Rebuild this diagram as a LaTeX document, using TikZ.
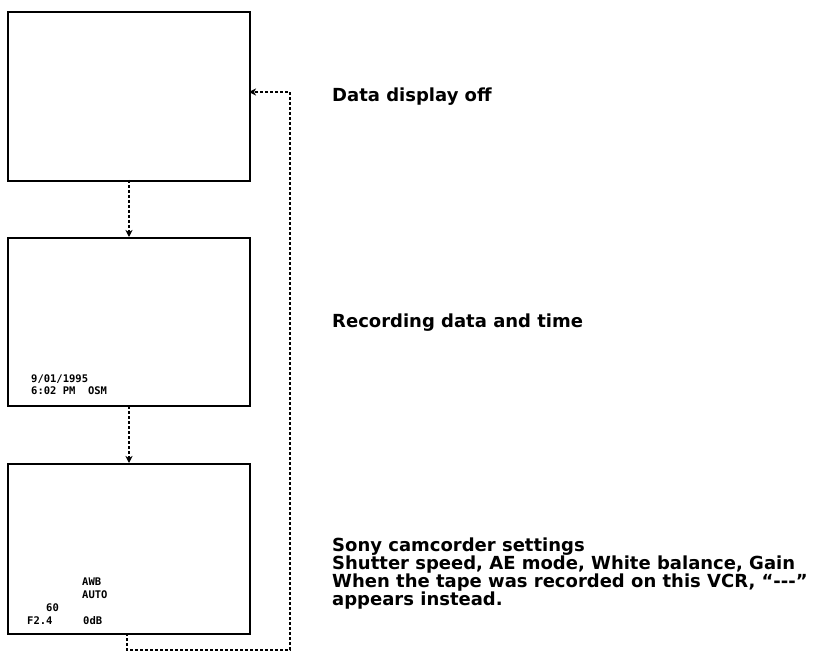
\documentclass[tikz,border=0pt]{standalone}
\usepackage{fontspec}
\setmainfont{Liberation Sans}
\newfontfamily\lblfont{DejaVu Sans}
\newfontfamily\pixfont{DejaVu Sans Mono}
\usetikzlibrary{arrows.meta}
\begin{document}
\begin{tikzpicture}[x=1pt,y=-1pt,
  screen/.style={draw=black,line width=1.8pt,fill=white},
  link/.style={draw=black,line width=1.4pt,dash pattern=on 3pt off 2pt,-{Stealth[length=7pt,width=7pt,inset=2pt]}},
  lbl/.style={anchor=west,font=\lblfont\bfseries\fontsize{18}{18}\selectfont,inner sep=0pt},
  pix/.style={anchor=west,font=\pixfont\bfseries\fontsize{10.5}{12}\selectfont,inner sep=0pt}]
\useasboundingbox (0,0) rectangle (814,660);
% screens
\node[screen,minimum width=242pt,minimum height=169pt,inner sep=0pt,anchor=north west] (s1) at (7,11) {};
\node[screen,minimum width=242pt,minimum height=168pt,inner sep=0pt,anchor=north west] (s2) at (7,237) {};
\node[screen,minimum width=242pt,minimum height=170pt,inner sep=0pt,anchor=north west] (s3) at (7,463) {};
% screen texts
\node[pix] (t1) at (31,379) {9/01/1995};
\node[pix] (t2) at (31,391) {6:02 PM\ \ OSM};
\node[pix] (t3) at (82,582) {AWB};
\node[pix] (t4) at (82,595) {AUTO};
\node[pix] (t5) at (46,608) {60};
\node[pix] (t6) at (27,621) {F2.4};
\node[pix] (t7) at (83,621) {0dB};
% connectors
\coordinate (c1a) at (129,180);
\coordinate (c1b) at (129,237);
\coordinate (c2a) at (129,406);
\coordinate (c2b) at (129,463);
\draw[link] (c1a) -- (c1b);
\draw[link] (c2a) -- (c2b);
\coordinate (l0) at (127,633);
\coordinate (l1) at (127,650);
\coordinate (l2) at (290,650);
\coordinate (l3) at (290,92);
\coordinate (l4) at (249,92);
\draw[link] (l0) -- (l1) -- (l2) -- (l3) -- (l4);
% labels
\node[lbl] (a) at (332,97) {Data display off};
\node[lbl] (b) at (332,323) {Recording data and time};
\node[lbl,anchor=base west] (c1) at (332,551) {Sony camcorder settings};
\node[lbl,anchor=base west] (c2) at (332,569) {Shutter speed, AE mode, White balance, Gain};
\node[lbl,anchor=base west] (c3) at (332,587) {When the tape was recorded on this VCR, “---”};
\node[lbl,anchor=base west] (c4) at (332,605) {appears instead.};
\end{tikzpicture}
\end{document}
